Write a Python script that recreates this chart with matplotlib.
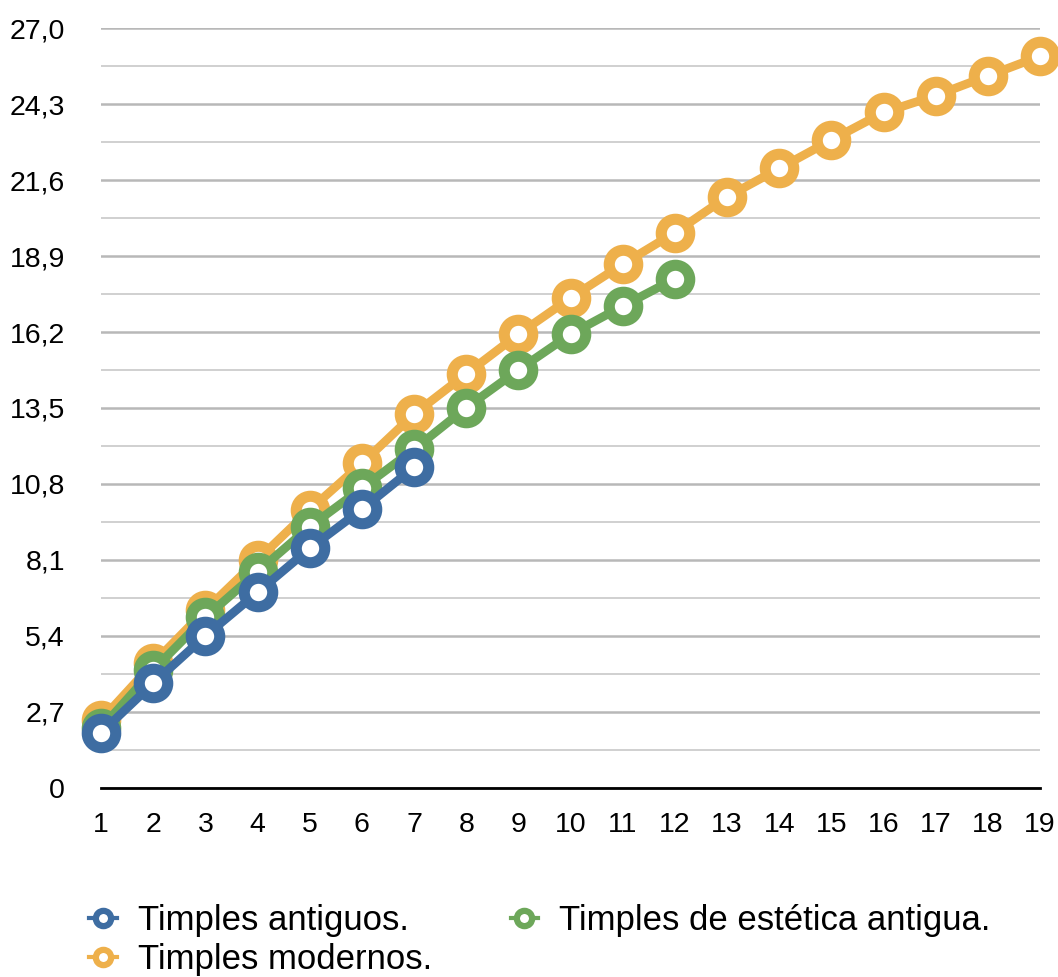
import numpy as np
import matplotlib.pyplot as plt
from matplotlib.lines import Line2D
from matplotlib.ticker import MultipleLocator, FuncFormatter

plt.rcParams['font.family'] = ['Liberation Sans', 'DejaVu Sans']

# valores
x_antiguos = [1, 2, 3, 4, 5, 6, 7]
y_antiguos = [1.96, 3.72, 5.40, 6.95, 8.51, 9.90, 11.39]

x_estetica = [1, 2, 3, 4, 5, 6, 7, 8, 9, 10, 11, 12]
y_estetica = [2.12, 4.19, 6.06, 7.68, 9.28, 10.65, 12.03, 13.51, 14.85,
              16.12, 17.12, 18.09]

x_modernos = list(range(1, 20))
y_modernos = [2.41, 4.43, 6.32, 8.10, 9.88, 11.53, 13.28, 14.71, 16.12,
              17.41, 18.61, 19.73, 21.0, 22.01, 23.02, 24.0, 24.6, 25.3, 26.0]

labels = ['Timples antiguos.', 'Timples modernos.', 'Timples de estética antigua.']
c_blue, c_orange, c_green = '#3E6DA2', '#EEB04B', '#6DA75A'

fig = plt.figure(figsize=(10.58, 9.77), dpi=100)
ax = fig.add_axes([0.0955, 0.1935, 0.8875, 0.7778])

style = dict(lw=6.3, marker='o', ms=20.5, mew=8, mfc='white', clip_on=False)
ax.plot(x_modernos, y_modernos, color=c_orange, mec=c_orange, zorder=3, **style)
ax.plot(x_estetica, y_estetica, color=c_green, mec=c_green, zorder=4, **style)
ax.plot(x_antiguos, y_antiguos, color=c_blue, mec=c_blue, zorder=5, **style)

ax.set_xlim(1, 19)
ax.set_ylim(0, 27)
ax.xaxis.set_major_locator(MultipleLocator(1))
ax.yaxis.set_major_locator(MultipleLocator(2.7))
ax.yaxis.set_minor_locator(MultipleLocator(1.35))
ax.yaxis.set_major_formatter(FuncFormatter(
    lambda v, p: '0' if abs(v) < 1e-9 else f'{v:.1f}'.replace('.', ',')))

ax.grid(axis='y', which='major', color='#b8b8b8', lw=1.8, zorder=0)
ax.grid(axis='y', which='minor', color='#c8c8c8', lw=1.2, zorder=0)
for s in ['top', 'right', 'left']:
    ax.spines[s].set_visible(False)
ax.spines['bottom'].set_color('black')
ax.spines['bottom'].set_linewidth(2)
ax.spines['bottom'].set_zorder(2)
ax.tick_params(axis='both', which='both', length=0, labelsize=20.5)
ax.tick_params(axis='y', pad=26)
ax.tick_params(axis='x', pad=17)

handles = [Line2D([], [], color=c, lw=3, marker='o', ms=11, mew=4.5, mec=c, mfc='white')
           for c in (c_blue, c_orange, c_green)]
fig.legend(handles, labels, loc='upper left', bbox_to_anchor=(0.071, 0.089),
           ncol=2, frameon=False, fontsize=25, handlelength=0.8, handletextpad=0.6,
           columnspacing=2.27, labelspacing=0.17, borderaxespad=0)

fig.savefig('out.png', dpi=100)
